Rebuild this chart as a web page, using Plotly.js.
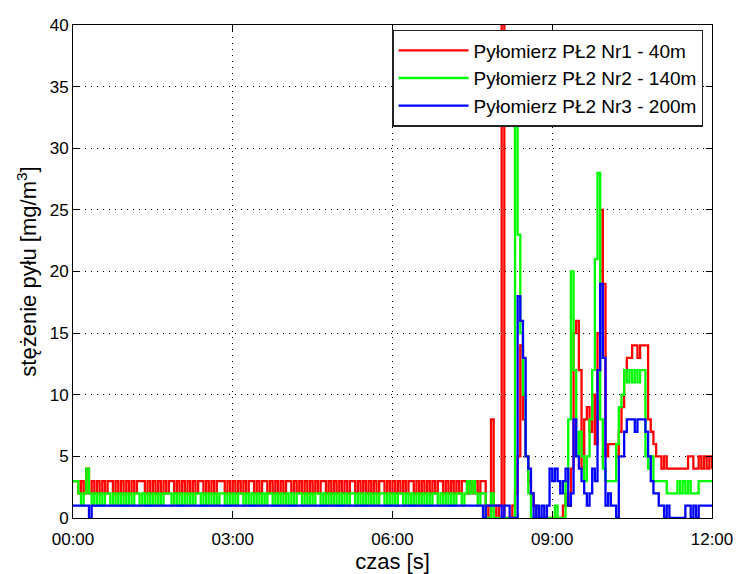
<!DOCTYPE html>
<html>
<head>
<meta charset="utf-8">
<script src="https://cdn.plot.ly/plotly-3.0.1.min.js"></script>
<style>html,body{margin:0;padding:0;background:#fff;}#chart{width:737px;height:574px;}</style>
</head>
<body>
<div id="chart"></div>
<script>
// sampling interval of the records, in minutes
const sampleStep = 0.05;

const seriesNames = ['Pyłomierz PŁ2 Nr1 - 40m', 'Pyłomierz PŁ2 Nr2 - 140m', 'Pyłomierz PŁ2 Nr3 - 200m'];
const seriesColors = ['#ff0000', '#00ff00', '#0000ff'];

const xTickVals = [0, 3, 6, 9, 12];
const xTickText = ['00:00', '03:00', '06:00', '09:00', '12:00'];
const yTickVals = [0, 5, 10, 15, 20, 25, 30, 35, 40];

// Nr1 - 40m
const nr1 = [
 3,3,2,3,2,4,2,3,2,3, 2,3,2,3,3,2,3,2,3,2, 3,2,3,2,3,3,3,2,3,2, 3,2,3,2,3,2,3,3,2,3,
 2,3,2,3,2,3,2,3,3,2, 3,2,3,2,3,3,3,2,3,2, 3,2,3,2,3,2,3,3,2,3, 2,3,3,2,3,2,3,2,3,2,
 3,3,2,3,2,3,2,3,2,3, 2,3,2,3,3,2,3,2,3,2, 3,2,3,2,3,3,2,3,2,3, 2,3,2,3,2,3,3,2,3,2,
 3,2,3,2,3,2,3,3,2,3, 2,3,2,3,2,3,2,3,3,2, 3,2,3,2,3,2,3,3,2,3, 2,3,2,3,
 3,1,0,8,1,0,1,45,0,0, 0,1,2,5,14,8,5,3,2,1, 0,0,0,0,0,0,0,0,0,0,
 1,2,1,4,15,16,12,4,8,9, 7,10,6,15,25,19,5,6,6,6, 5,7,9,12,13,13,14,14,13,14,
 14,14,8,7,6,5,5,4,5,4, 4,4,4,4,4,4,4,5,5,4, 4,5,4,5,4,5,4
];
// Nr2 - 140m
const nr2 = [
 3,3,2,1,2,4,2,1,2,1, 2,1,2,2,1,2,1,2,1,2, 1,2,1,2,2,1,2,1,2,1, 2,1,2,1,2,2,2,1,2,1,
 2,1,2,1,2,1,2,2,1,2, 1,2,1,2,1,2,2,1,2,1, 2,1,2,2,1,2,1,2,1,2, 1,2,1,2,2,1,2,1,2,1,
 2,1,2,1,2,2,1,2,1,2, 1,2,2,1,2,1,2,1,2,1, 2,1,2,1,2,2,1,2,1,2, 1,2,1,2,1,2,2,1,2,1,
 2,1,2,2,1,2,1,2,1,2, 1,2,1,2,1,2,2,1,2,1, 2,1,2,1,2,2,1,2,3,2, 3,2,1,2,
 2,0,0,2,0,0,0,0,0,0, 0,0,32,23,15,10,5,2,0,0, 0,0,0,0,0,0,0,1,0,0,
 0,3,8,20,12,5,7,5,3,5, 8,12,21,28,8,4,3,3,3,3, 6,9,10,12,11,12,11,12,11,12,
 12,5,4,5,3,3,3,3,3,2, 2,2,2,3,2,3,2,3,2,2, 2,3,3,3,3,3,3
];
// Nr3 - 200m
const nr3 = [
 1,1,1,1,1,1,0,1,1,1, 1,1,1,1,1,1,1,1,1,1, 1,1,1,1,1,1,1,1,1,1, 1,1,1,1,1,1,1,1,1,1,
 1,1,1,1,1,1,1,1,1,1, 1,1,1,1,1,1,1,1,1,1, 1,1,1,1,1,1,1,1,1,1, 1,1,1,1,1,1,1,1,1,1,
 1,1,1,1,1,1,1,1,1,1, 1,1,1,1,1,1,1,1,1,1, 1,1,1,1,1,1,1,1,1,1, 1,1,1,1,1,1,1,1,1,1,
 1,1,1,1,1,1,1,1,1,1, 1,1,1,1,1,1,1,1,1,1, 1,1,1,1,1,1,1,1,1,1, 1,1,1,1,
 0,1,1,1,1,1,1,0,1,1, 0,0,0,18,16,13,5,4,2,0, 1,0,1,0,1,4,3,4,3,2,
 3,4,1,2,8,5,4,3,2,1, 2,4,3,12,19,13,1,2,1,1, 0,5,5,7,8,8,8,7,8,8,
 8,7,5,3,2,2,1,1,0,1, 0,0,0,0,0,0,1,1,0,1, 0,1,1,1,1,1,1
];

const allSeries = [nr1, nr2, nr3];
const traces = allSeries.map((vals, k) => ({
  x: vals.map((_, i) => i * sampleStep),
  y: vals,
  type: 'scatter',
  mode: 'lines',
  line: {shape: 'hv', color: seriesColors[k], width: 2.3},
  name: seriesNames[k]
}));

const fam = 'Liberation Sans, Arial, sans-serif';
const font = {family: fam, size: 17, color: '#000'};

const layout = {
  width: 737, height: 574,
  margin: {l: 73, r: 25, t: 25, b: 56},
  paper_bgcolor: '#fff', plot_bgcolor: '#fff',
  font: font,
  showlegend: true,
  legend: {
    x: 0.986, xanchor: 'right', y: 0.99, yanchor: 'top',
    bgcolor: '#fff', bordercolor: '#222', borderwidth: 1.5,
    font: {family: fam, size: 19, color: '#000'},
    itemwidth: 70, tracegroupgap: 0
  },
  xaxis: {
    range: [0, 12], tickvals: xTickVals, ticktext: xTickText,
    showgrid: true, gridcolor: '#000', griddash: '1px,5px', gridwidth: 1,
    zeroline: false, showline: true, linecolor: '#000', linewidth: 1, mirror: 'ticks',
    ticks: 'inside', ticklen: 6, tickcolor: '#000', ticklabelstandoff: 6,
    title: {text: 'czas [s]', font: {family: fam, size: 22, color: '#000'}, standoff: 4},
    tickfont: font
  },
  yaxis: {
    range: [0, 40], tickvals: yTickVals,
    showgrid: true, gridcolor: '#000', griddash: '1px,5px', gridwidth: 1,
    zeroline: false, showline: true, linecolor: '#000', linewidth: 1, mirror: 'ticks',
    ticks: 'inside', ticklen: 6, tickcolor: '#000',
    title: {text: 'stężenie pyłu [mg/m<sup>3</sup>]', font: {family: fam, size: 22, color: '#000'}, standoff: 6},
    tickfont: font
  }
};

Plotly.newPlot('chart', traces, layout, {displayModeBar: false, staticPlot: true});
</script>
</body>
</html>
